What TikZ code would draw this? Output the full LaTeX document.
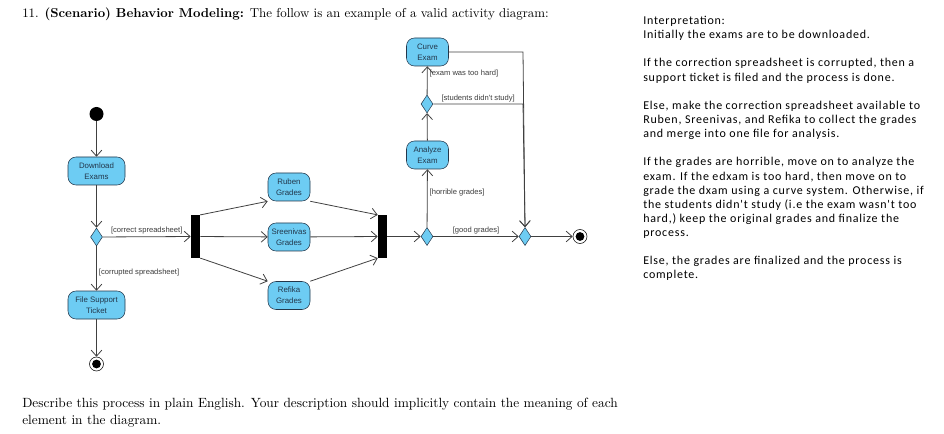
\documentclass[tikz,border=0pt]{standalone}
\usepackage{fontspec}
\newfontfamily\diafont{Liberation Sans}
\newfontfamily\notefont[LetterSpace=6.5]{Carlito}
\usetikzlibrary{shapes.geometric,arrows.meta}
\definecolor{actfill}{RGB}{109,204,243}
\definecolor{actline}{RGB}{35,55,75}
\definecolor{guardtext}{RGB}{60,60,60}
\tikzset{
  act/.style={draw=actline, fill=actfill, rounded corners=6pt, minimum width=31.5pt,
    minimum height=21pt, align=center, inner sep=1pt, text=actline,
    font=\diafont\fontsize{5.9}{8.2}\selectfont},
  wideact/.style={act, minimum width=42.75pt},
  choice/.style={diamond, draw=actline, fill=actfill, minimum width=9pt,
    minimum height=13.5pt, inner sep=0pt},
  syncbar/.style={fill=black, minimum width=6.75pt, minimum height=32pt, inner sep=0pt},
  startdot/.style={circle, fill=black, minimum size=10.5pt, inner sep=0pt},
  enddot/.style={circle, draw=black, fill=white, minimum size=10.5pt, inner sep=0pt,
    path picture={\fill[black] (path picture bounding box.center) circle (3.3pt);}},
  flow/.style={draw=black!75, line width=0.6pt, -{Straight Barb[length=4.5pt,width=8pt]}},
  guard/.style={font=\diafont\fontsize{5.7}{7}\selectfont, text=guardtext, inner sep=1.5pt},
}
\begin{document}
\begin{tikzpicture}[x=0.75pt, y=-0.75pt]
  \useasboundingbox (0,0) rectangle (944,434);
  % question text
  \node[anchor=base west, inner sep=0pt, font=\fontsize{9.7}{12}\selectfont] (q) at (22,18)
    {11. \textbf{(Scenario) Behavior Modeling:} The follow is an example of a valid activity diagram:};
  \node[anchor=north west, inner sep=0pt, align=left, font=\fontsize{10}{12.75}\selectfont] (task) at (22,398)
    {Describe this process in plain English. Your description should implicitly contain the meaning of each\\
     element in the diagram.};
  % interpretation
  \node[anchor=north west, inner sep=0pt, align=left,
        font=\notefont\fontsize{9}{10.6}\selectfont] (notes) at (643,16)
    {Interpretation:\\
     Initially the exams are to be downloaded.\\[10.6pt]
     If the correction spreadsheet is corrupted, then a\\
     support ticket is filed and the process is done.\\[10.6pt]
     Else, make the correction spreadsheet available to\\
     Ruben, Sreenivas, and Refika to collect the grades\\
     and merge into one file for analysis.\\[10.6pt]
     If the grades are horrible, move on to analyze the\\
     exam. If the edxam is too hard, then move on to\\
     grade the dxam using a curve system. Otherwise, if\\
     the students didn't study (i.e the exam wasn't too\\
     hard,) keep the original grades and finalize the\\
     process.\\[10.6pt]
     Else, the grades are finalized and the process is\\
     complete.};
  % activity diagram
  \node[startdot] (init) at (96.5,114) {};
  \node[wideact] (dl) at (96.5,171) {Download\\Exams};
  \node[choice] (d1) at (96.5,237) {};
  \node[wideact] (tk) at (96.5,305) {File Support\\Ticket};
  \node[enddot] (end1) at (96.5,364) {};
  \node[syncbar] (fork) at (195.5,236.5) {};
  \node[act] (rub) at (289,187) {Ruben\\Grades};
  \node[act] (sre) at (289,237) {Sreenivas\\Grades};
  \node[act] (ref) at (289,295.5) {Refika\\Grades};
  \node[syncbar] (join) at (382.5,236.5) {};
  \node[choice] (d2) at (427,236.5) {};
  \node[act] (ana) at (427.5,155) {Analyze\\Exam};
  \node[choice] (d3) at (427,104) {};
  \node[act] (crv) at (427.5,52) {Curve\\Exam};
  \node[choice] (mg) at (525,236.5) {};
  \node[enddot] (end2) at (580,236.5) {};
  \coordinate (crvturn) at (523,52);
  \coordinate (studyturn) at (523,104);
  \begin{scope}[flow]
    \draw (init) -- (dl);
    \draw (dl) -- (d1);
    \draw (d1) -- node[guard, above] {[correct spreadsheet]} (fork);
    \draw (d1) -- node[guard, right, pos=0.6] {[corrupted spreadsheet]} (tk);
    \draw (tk) -- (end1);
    \draw (fork.north east) -- (rub.south west);
    \draw (fork) -- (sre);
    \draw (fork.south east) -- (ref.north west);
    \draw (rub.south east) -- (join.north west);
    \draw (sre) -- (join);
    \draw (ref.north east) -- (join.south west);
    \draw (join) -- (d2);
    \draw (d2) -- node[guard, right, pos=0.6] {[horrible grades]} (ana);
    \draw (d2) -- node[guard, above] {[good grades]} (mg);
    \draw (ana) -- (d3);
    \draw (d3) -- node[guard, right, pos=0.75] {[exam was too hard]} (crv);
    \draw (d3.east) -- node[guard, above] {[students didn't study]} (studyturn) -- (mg.north);
    \draw (crv.east) -- (crvturn) -- (mg.north);
    \draw (mg) -- (end2);
  \end{scope}
\end{tikzpicture}
\end{document}
